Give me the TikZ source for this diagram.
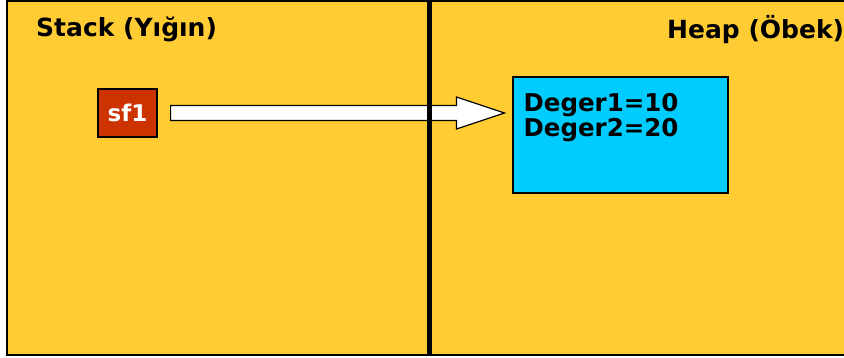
\documentclass[tikz,border=0pt]{standalone}
\usepackage{fontspec}
\setmainfont{DejaVu Sans}
\usetikzlibrary{calc}
\definecolor{panelyellow}{HTML}{FFCC33}
\definecolor{objblue}{HTML}{00CCFF}
\definecolor{refred}{HTML}{CC3300}
\tikzset{
  panel/.style={fill=panelyellow, draw=black, line width=1.5pt},
  divider/.style={draw=black, line width=5pt},
  title/.style={font=\bfseries\fontsize{25}{30}\selectfont, inner sep=0pt, anchor=base west},
  refbox/.style={fill=refred, draw=black, line width=1.2pt, minimum width=59pt, minimum height=48pt, inner sep=0pt, text=white, font=\bfseries\fontsize{23}{28}\selectfont},
  objbox/.style={fill=objblue, draw=black, line width=1.2pt, minimum width=215pt, minimum height=116pt, inner sep=0pt},
  objtext/.style={font=\bfseries\fontsize{24.5}{25}\selectfont, align=left, inner sep=0pt, anchor=north west},
  blockarrow/.style={fill=white, draw=black, line width=1.2pt, line join=miter}
}
\begin{document}
\begin{tikzpicture}[x=1pt,y=-1pt]
\useasboundingbox (0,0) rectangle (844,358);
\clip (0,0) rectangle (844,358);
% panels
\path[panel] (7,1) rectangle (870,355);
% nodes
\node[refbox] (sf1) at (127.5,113) {sf1};
\node[objbox] (obj) at (620.5,135) {};
\node[objtext] (vals) at ($(obj.north west)+(11,16.5)$) {Deger1=10\\Deger2=20};
% arrow
\coordinate (s) at ($(sf1.east)+(13,0)$);
\coordinate (t) at ($(obj.west |- sf1.east)+(-8,0)$);
\path[blockarrow] ($(s)+(0,-7.5)$) -- ($(t)+(-48,-7.5)$) -- ($(t)+(-48,-16)$) -- (t)
  -- ($(t)+(-48,16)$) -- ($(t)+(-48,7.5)$) -- ($(s)+(0,7.5)$) -- cycle;
% divider
\coordinate (dtop) at (429.5,1);
\coordinate (dbot) at (429.5,355);
\draw[divider] (dtop) -- (dbot);
% titles
\node[title] (stack) at (36,36.5) {Stack (Yığın)};
\node[title] (heap) at (667,39) {Heap (Öbek)};
\end{tikzpicture}
\end{document}
